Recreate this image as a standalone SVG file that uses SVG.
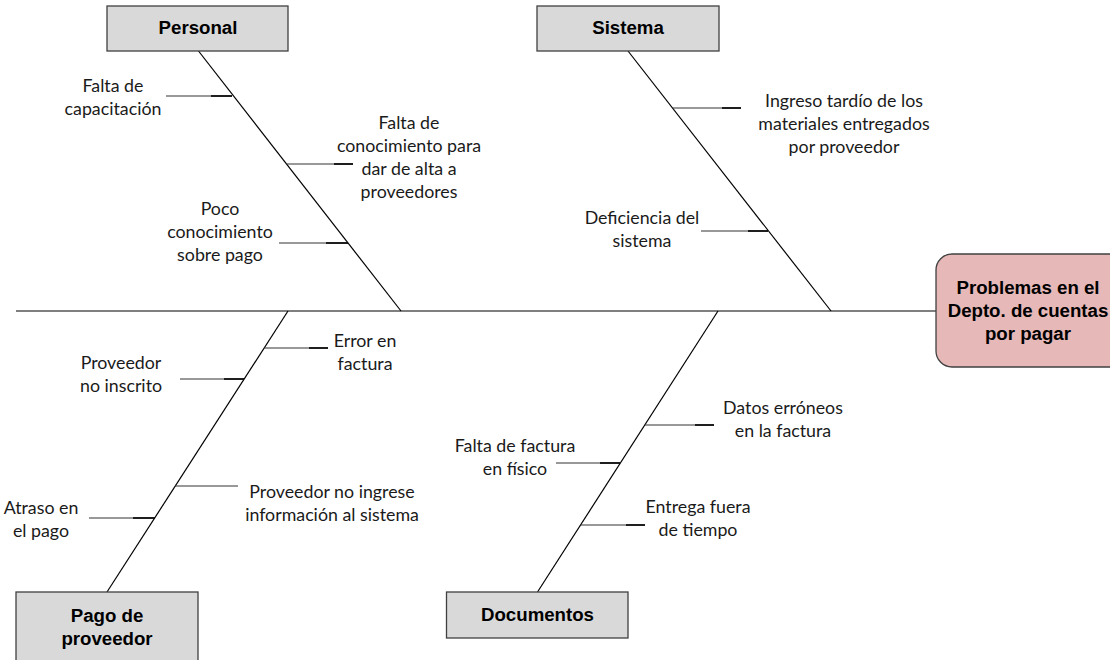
<svg xmlns="http://www.w3.org/2000/svg" width="1110" height="660" viewBox="0 0 1110 660">
<style>
.box{fill:#d9d9d9;stroke:#404040;stroke-width:1.3}
.hd{font-family:"Liberation Sans",Arial,sans-serif;font-weight:bold;font-size:18.67px;fill:#000;text-anchor:middle}
.lb{font-family:Lato,"Open Sans",sans-serif;font-size:17.8px;fill:#1a1a1a;text-anchor:middle}
.bone{stroke:#000;stroke-width:1.2;fill:none}
.sub{stroke:#333;stroke-width:1;fill:none}
.tip{stroke:#000;stroke-width:1.6;fill:none}
</style>
<rect width="1110" height="660" fill="#fff"/>
<g id="connectors">
<line class="bone" x1="16" y1="311" x2="936" y2="311"/>
<line class="bone" x1="198.5" y1="51" x2="401" y2="311"/>
<line class="bone" x1="628" y1="51" x2="831" y2="311"/>
<line class="bone" x1="288" y1="311" x2="107" y2="592"/>
<line class="bone" x1="718" y1="311" x2="537.5" y2="592"/>
<line class="sub" x1="166" y1="96" x2="232" y2="96"/><line class="tip" x1="211" y1="96" x2="232" y2="96"/>
<line class="sub" x1="286" y1="164" x2="353" y2="164"/><line class="tip" x1="334" y1="164" x2="353" y2="164"/>
<line class="sub" x1="279" y1="243" x2="348" y2="243"/><line class="tip" x1="326" y1="243" x2="348" y2="243"/>
<line class="sub" x1="672" y1="108" x2="741" y2="108"/><line class="tip" x1="722" y1="108" x2="741" y2="108"/>
<line class="sub" x1="701" y1="231" x2="768" y2="231"/><line class="tip" x1="748" y1="231" x2="768" y2="231"/>
<line class="sub" x1="264" y1="348" x2="328" y2="348"/><line class="tip" x1="309" y1="348" x2="328" y2="348"/>
<line class="sub" x1="180" y1="379" x2="244" y2="379"/><line class="tip" x1="224" y1="379" x2="244" y2="379"/>
<line class="sub" x1="175" y1="486" x2="238" y2="486"/>
<line class="sub" x1="89" y1="518" x2="155" y2="518"/><line class="tip" x1="133" y1="518" x2="155" y2="518"/>
<line class="sub" x1="645" y1="425" x2="714" y2="425"/><line class="tip" x1="695" y1="425" x2="714" y2="425"/>
<line class="sub" x1="556" y1="463" x2="620" y2="463"/><line class="tip" x1="600" y1="463" x2="620" y2="463"/>
<line class="sub" x1="581" y1="525" x2="645" y2="525"/><line class="tip" x1="626" y1="525" x2="645" y2="525"/>
</g>
<g id="personal"><rect class="box" x="107" y="6" width="181" height="45"/><text class="hd" x="198" y="34">Personal</text></g>
<g id="sistema"><rect class="box" x="537" y="6" width="182" height="45"/><text class="hd" x="628" y="34">Sistema</text></g>
<g id="pago"><rect class="box" x="16" y="592" width="182" height="80"/><text class="hd" x="107" y="622">Pago de</text><text class="hd" x="107" y="645">proveedor</text></g>
<g id="documentos"><rect class="box" x="446.5" y="592" width="181.5" height="46"/><text class="hd" x="537.5" y="621">Documentos</text></g>
<g id="problema"><rect x="936" y="254" width="190" height="113" rx="16" fill="#e6b9b8" stroke="#404040" stroke-width="1.3"/>
<text class="hd" x="1028" y="294">Problemas en el</text><text class="hd" x="1028" y="317">Depto. de cuentas</text><text class="hd" x="1028" y="340">por pagar</text></g>
<g id="c1"><text class="lb" x="113" y="92">Falta de</text><text class="lb" x="113" y="115">capacitación</text></g>
<g id="c2"><text class="lb" x="409" y="129">Falta de</text><text class="lb" x="409" y="152">conocimiento para</text><text class="lb" x="409" y="175">dar de alta a</text><text class="lb" x="409" y="198">proveedores</text></g>
<g id="c3"><text class="lb" x="220" y="215">Poco</text><text class="lb" x="220" y="238">conocimiento</text><text class="lb" x="220" y="261">sobre pago</text></g>
<g id="c4"><text class="lb" x="844" y="107">Ingreso tardío de los</text><text class="lb" x="844" y="130">materiales entregados</text><text class="lb" x="844" y="153">por proveedor</text></g>
<g id="c5"><text class="lb" x="642" y="224">Deficiencia del</text><text class="lb" x="642" y="247">sistema</text></g>
<g id="c6"><text class="lb" x="365" y="347">Error en</text><text class="lb" x="365" y="370">factura</text></g>
<g id="c7"><text class="lb" x="121" y="369">Proveedor</text><text class="lb" x="121" y="392">no inscrito</text></g>
<g id="c8"><text class="lb" x="332" y="498">Proveedor no ingrese</text><text class="lb" x="332" y="521">información al sistema</text></g>
<g id="c9"><text class="lb" x="41" y="514">Atraso en</text><text class="lb" x="41" y="537">el pago</text></g>
<g id="c10"><text class="lb" x="783" y="414">Datos erróneos</text><text class="lb" x="783" y="437">en la factura</text></g>
<g id="c11"><text class="lb" x="515" y="452">Falta de factura</text><text class="lb" x="515" y="475">en físico</text></g>
<g id="c12"><text class="lb" x="698" y="513">Entrega fuera</text><text class="lb" x="698" y="536">de tiempo</text></g>
</svg>
